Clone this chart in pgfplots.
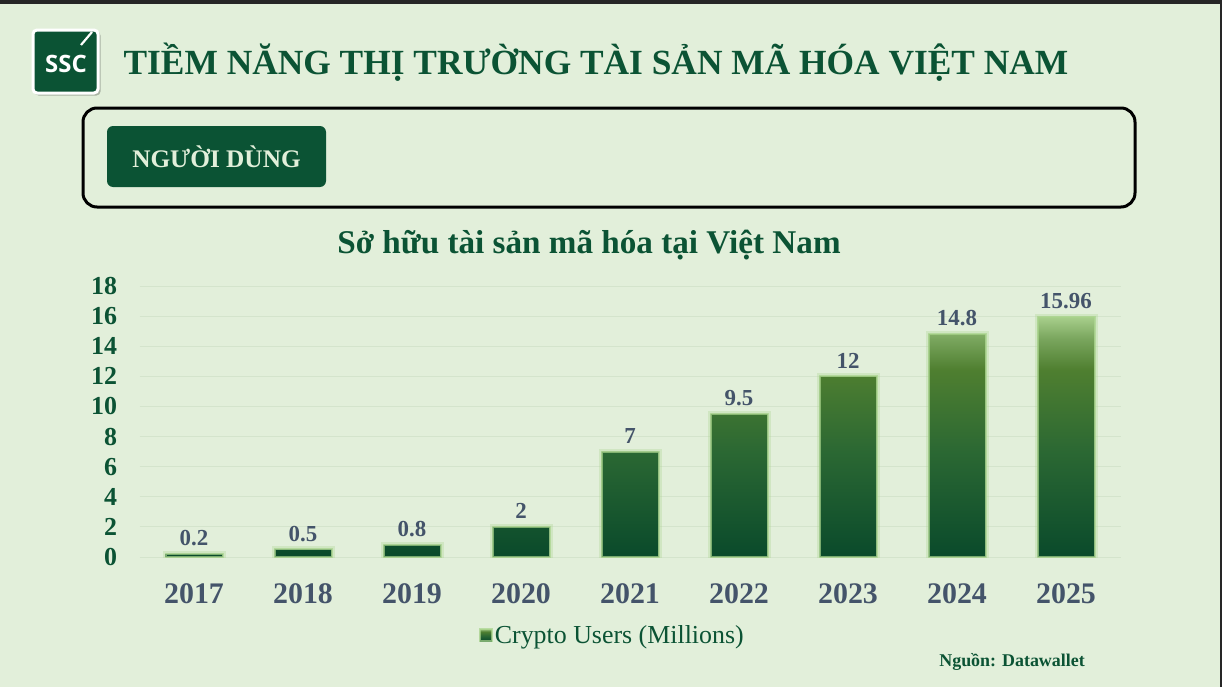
\documentclass[border=0pt]{standalone}
\usepackage{pgfplots}
\pgfplotsset{compat=1.18}
\usepackage{fontspec}
\setmainfont{Liberation Serif}
\newfontfamily\logofont{Open Sans}

\definecolor{slidebg}{HTML}{E2EFDA}
\definecolor{sscgreen}{HTML}{0B5334}
\definecolor{slate}{HTML}{44546A}
\definecolor{gridc}{HTML}{D4E4CC}
\definecolor{glow}{HTML}{A9D48C}
\definecolor{barD}{HTML}{0A4A2B}
\definecolor{barM}{HTML}{2B6833}
\definecolor{barO}{HTML}{4F7F30}
\definecolor{barP}{HTML}{7AA65E}
\definecolor{barL}{HTML}{A8CF8C}

% TikZ maps a path's bounding box onto the 25bp--75bp band of the shading
\pgfdeclareverticalshading{bargrad}{100bp}{color(0bp)=(barD); color(25bp)=(barD); color(47bp)=(barM); color(64bp)=(barO); color(70.5bp)=(barP); color(75bp)=(barL); color(100bp)=(barL)}

\begin{document}
\begin{tikzpicture}
\useasboundingbox (0,0) rectangle (1222bp,-687bp);
\fill[slidebg] (0,0) rectangle (1222bp,-687bp);

\begin{scope}[x=1bp,y=-1bp]
  % frame strips
  \fill[black!85] (0,0) rectangle (1222,4);
  \fill[black!85] (1220,0) rectangle (1222,687);
  % logo
  \fill[black,opacity=0.25,rounded corners=4bp] (34.5,31.5) rectangle (100.5,95.5);
  \filldraw[fill=sscgreen,draw=white,line width=3bp,rounded corners=4bp] (33,30) rectangle (98,93);
  \draw[white,line width=2.2bp] (81,45) -- (92,32);
  \node[text=white,font=\logofont\bfseries\fontsize{24}{24}\selectfont,inner sep=0] at (66,64) {SSC};
  % heading
  \node[text=sscgreen,font=\bfseries\fontsize{35.5}{35.5}\selectfont,inner sep=0] at (596,62) {TIỀM NĂNG THỊ TRƯỜNG TÀI SẢN MÃ HÓA VIỆT NAM};
  % section box
  \draw[black,line width=3bp,rounded corners=14bp] (83,108) rectangle (1135,207);
  \fill[sscgreen,rounded corners=6bp] (107,126) rectangle (326,187);
  \node[text=slidebg,font=\bfseries\fontsize{25.4}{25.4}\selectfont,inner sep=0] at (216.5,157) {NGƯỜI DÙNG};
  % chart title and source
  \node[text=sscgreen,font=\bfseries\fontsize{33.3}{33.3}\selectfont,inner sep=0] at (589,245) {Sở hữu tài sản mã hóa tại Việt Nam};
  \node[text=sscgreen,font=\bfseries\fontsize{18}{18}\selectfont,inner sep=0,anchor=east] at (1085,662) {Nguồn: Datawallet};
\end{scope}

\begin{axis}[
  at={(139.5bp,-557bp)}, anchor=south west,
  scale only axis, width=981bp, height=271bp,
  xmin=-0.5, xmax=8.5, ymin=0, ymax=18,
  axis line style={draw=none},
  ybar, bar width=57bp, bar shift=0pt,
  xtick=data,
  xticklabels={2017,2018,2019,2020,2021,2022,2023,2024,2025},
  ytick={0,2,...,18},
  major tick length=0pt,
  ymajorgrids, grid style={draw=gridc, line width=0.8bp},
  /pgf/number format/assume math mode=true,
  yticklabel style={font=\bfseries\fontsize{26}{26}\selectfont, text=sscgreen, xshift=-19bp},
  xticklabel style={font=\bfseries\fontsize{30}{30}\selectfont, text=slate, yshift=-23bp},
  nodes near coords,
  nodes near coords style={font=\bfseries\fontsize{23}{23}\selectfont, text=slate, inner sep=7bp},
  legend style={at={(0.482,-0.288)}, anchor=center, draw=none, fill=none,
    font=\fontsize{26}{26}\selectfont, text=sscgreen},
  legend image code/.code={\shade[shading=bargrad] (0bp,-6bp) rectangle (12bp,6bp);},
]
% soft halo around the bars
\addplot[ybar, bar shift=0pt, draw=glow, draw opacity=0.3, line width=6bp, fill=none, nodes near coords={}, forget plot]
  coordinates {(0,0.2) (1,0.5) (2,0.8) (3,2) (4,7) (5,9.5) (6,12) (7,14.8) (8,15.96)};
\addplot[ybar, bar shift=0pt, shading=bargrad, draw=glow, draw opacity=0.7, line width=2bp]
  coordinates {(0,0.2) (1,0.5) (2,0.8) (3,2) (4,7) (5,9.5) (6,12) (7,14.8) (8,15.96)};
\legend{Crypto Users (Millions)}
\end{axis}
\end{tikzpicture}
\end{document}
